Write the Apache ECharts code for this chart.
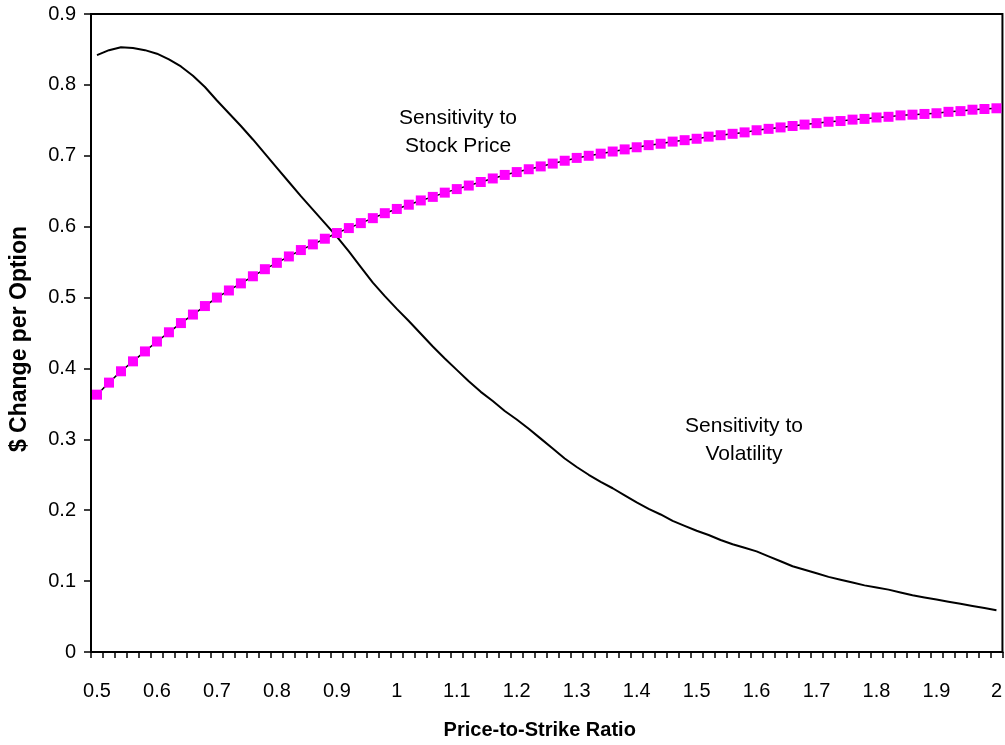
<!DOCTYPE html>
<html>
<head>
<meta charset="utf-8">
<script src="https://cdn.jsdelivr.net/npm/echarts@6/dist/echarts.min.js"></script>
<style>
html,body{margin:0;padding:0;background:#fff;}
#chart{width:1005px;height:745px;}
</style>
</head>
<body>
<div id="chart"></div>
<script>
const ratios = ['0.5','0.52','0.54','0.56','0.58','0.6','0.62','0.64','0.66','0.68',
  '0.7','0.72','0.74','0.76','0.78','0.8','0.82','0.84','0.86','0.88',
  '0.9','0.92','0.94','0.96','0.98','1','1.02','1.04','1.06','1.08',
  '1.1','1.12','1.14','1.16','1.18','1.2','1.22','1.24','1.26','1.28',
  '1.3','1.32','1.34','1.36','1.38','1.4','1.42','1.44','1.46','1.48',
  '1.5','1.52','1.54','1.56','1.58','1.6','1.62','1.64','1.66','1.68',
  '1.7','1.72','1.74','1.76','1.78','1.8','1.82','1.84','1.86','1.88',
  '1.9','1.92','1.94','1.96','1.98','2'];

const stockPriceSensitivity = [0.363,0.380,0.396,0.410,0.424,0.438,0.451,0.464,0.476,0.488,
  0.500,0.510,0.520,0.530,0.540,0.549,0.558,0.567,0.575,0.583,
  0.591,0.598,0.605,0.612,0.619,0.625,0.631,0.637,0.642,0.648,
  0.653,0.658,0.663,0.668,0.673,0.677,0.681,0.685,0.689,0.693,
  0.697,0.700,0.703,0.706,0.709,0.712,0.715,0.717,0.720,0.722,
  0.724,0.727,0.729,0.731,0.733,0.736,0.738,0.740,0.742,0.744,
  0.746,0.748,0.749,0.751,0.752,0.754,0.755,0.757,0.758,0.759,
  0.760,0.762,0.763,0.765,0.766,0.767];

const volatilitySensitivity = [0.842,0.849,0.853,0.852,0.849,0.844,0.836,0.826,0.813,0.797,
  0.778,0.760,0.742,0.723,0.703,0.683,0.663,0.643,0.624,0.605,
  0.586,0.565,0.543,0.521,0.502,0.484,0.467,0.449,0.431,0.414,
  0.398,0.382,0.367,0.354,0.340,0.328,0.315,0.301,0.287,0.273,
  0.261,0.250,0.240,0.231,0.221,0.211,0.202,0.194,0.185,0.178,
  0.171,0.165,0.158,0.152,0.147,0.142,0.135,0.128,0.121,0.116,
  0.111,0.106,0.102,0.098,0.094,0.091,0.088,0.084,0.080,0.077,
  0.074,0.071,0.068,0.065,0.062,0.059];

const yTicks = ['0','0.1','0.2','0.3','0.4','0.5','0.6','0.7','0.8','0.9'];
const xLabelEvery = 5;

const FONT = '"Liberation Sans", Arial, sans-serif';
const chart = echarts.init(document.getElementById('chart'), null, {renderer: 'canvas'});
chart.setOption({
  backgroundColor: '#ffffff',
  animation: false,
  grid: {
    left: 90, right: 2, top: 14, bottom: 91,
    show: true, borderColor: '#000', borderWidth: 2, backgroundColor: 'transparent'
  },
  xAxis: {
    type: 'category',
    data: ratios,
    boundaryGap: true,
    name: 'Price-to-Strike Ratio',
    nameLocation: 'middle',
    nameGap: 68,
    nameTextStyle: {fontFamily: FONT, fontSize: 20, fontWeight: 'bold', color: '#000', padding: [0, 14, 0, 0]},
    axisLine: {lineStyle: {color: '#000', width: 2}},
    axisTick: {show: true, interval: 0, length: 6, lineStyle: {color: '#000', width: 1.5}},
    axisLabel: {
      interval: xLabelEvery - 1, margin: 29,
      fontFamily: FONT, fontSize: 20, color: '#000'
    },
    splitLine: {show: false}
  },
  yAxis: {
    type: 'value',
    min: 0, max: 0.9, interval: 0.1,
    name: '$ Change per Option',
    nameLocation: 'middle',
    nameGap: 60,
    nameTextStyle: {fontFamily: FONT, fontSize: 23, fontWeight: 'bold', color: '#000', padding: [0, 12, 0, 0]},
    axisLine: {show: true, lineStyle: {color: '#000', width: 2}},
    axisTick: {show: true, length: 7, lineStyle: {color: '#000', width: 1.5}},
    axisLabel: {
      margin: 15, fontFamily: FONT, fontSize: 20, color: '#000',
      formatter: function (v) { return yTicks[Math.round(v * 10)]; }
    },
    splitLine: {show: false}
  },
  series: [
    {
      name: 'Sensitivity to Volatility',
      type: 'line',
      data: volatilitySensitivity,
      showSymbol: false,
      smooth: false,
      lineStyle: {color: '#000', width: 2},
      itemStyle: {color: '#000'}
    },
    {
      name: 'Sensitivity to Stock Price',
      type: 'line',
      data: stockPriceSensitivity,
      symbol: 'rect',
      symbolSize: 10,
      showAllSymbol: true,
      lineStyle: {color: '#000', width: 1.5},
      itemStyle: {color: '#ff00ff', borderWidth: 0}
    }
  ],
  graphic: [
    {type: 'text', x: 458, y: 104, style: {text: 'Sensitivity to\nStock Price', font: '21px ' + FONT, fill: '#000', lineHeight: 28, align: 'center', verticalAlign: 'top'}},
    {type: 'text', x: 744, y: 412, style: {text: 'Sensitivity to\nVolatility', font: '21px ' + FONT, fill: '#000', lineHeight: 28, align: 'center', verticalAlign: 'top'}}
  ]
});
</script>
</body>
</html>
